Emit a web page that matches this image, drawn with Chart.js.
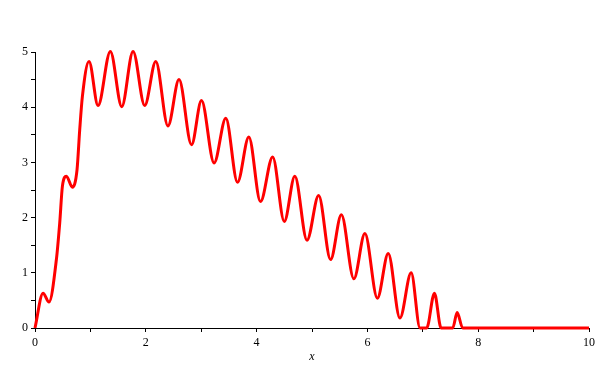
<!DOCTYPE html>
<html>
<head>
<meta charset="utf-8">
<script src="https://cdn.jsdelivr.net/npm/chart.js@4/dist/chart.umd.min.js"></script>
<style>
  html, body { margin: 0; padding: 0; background: #fff; }
  #wrap { width: 600px; height: 379px; }
</style>
</head>
<body>
<div id="wrap"><canvas id="plot"></canvas></div>
<script>
// curve (peaks, valleys and a few points on the steep parts)
const xValues = [0, 0.145, 0.253, 0.386, 0.446, 0.495, 0.567, 0.675, 0.759, 0.807, 0.856, 0.975,
  1.138, 1.36, 1.566, 1.77, 1.98, 2.18, 2.40, 2.60, 2.825, 3.005, 3.233, 3.444, 3.655, 3.86,
  4.07, 4.29, 4.50, 4.69, 4.91, 5.12, 5.335, 5.53, 5.756, 5.955, 6.18, 6.376, 6.587, 6.79,
  6.95, 7.07, 7.21, 7.33, 7.54, 7.62, 7.72, 10];
const yValues = [0, 0.63, 0.47, 1.24, 1.90, 2.57, 2.75, 2.55, 2.87, 3.59, 4.20, 4.83,
  4.03, 5.01, 4.01, 5.01, 4.03, 4.83, 3.66, 4.50, 3.32, 4.12, 2.99, 3.80, 2.64, 3.46,
  2.29, 3.10, 1.93, 2.75, 1.59, 2.40, 1.24, 2.05, 0.89, 1.71, 0.54, 1.35, 0.18, 1.00,
  0, 0, 0.63, 0, 0, 0.28, 0, 0];
const xLabels = [0, 2, 4, 6, 8, 10];
const yLabels = [0, 1, 2, 3, 4, 5];

const points = xValues.map((x, i) => ({ x: x, y: yValues[i] }));
const tickFont = { family: "Liberation Serif", size: 12 };

new Chart(document.getElementById("plot"), {
  type: "line",
  data: {
    datasets: [{
      data: points,
      borderColor: "#ff0000",
      borderWidth: 3,
      pointRadius: 0,
      cubicInterpolationMode: "monotone",
      clip: false
    }]
  },
  options: {
    responsive: true,
    maintainAspectRatio: false,
    animation: false,
    layout: { padding: { top: 52, right: 11, left: 0, bottom: 15 } },
    plugins: { legend: { display: false }, tooltip: { enabled: false } },
    scales: {
      x: {
        type: "linear",
        min: 0,
        max: 10,
        afterFit: (scale) => { scale.height = 36; },
        border: { display: true, color: "#000", width: 1 },
        grid: { drawOnChartArea: false, color: "#000", tickLength: 4 },
        ticks: {
          stepSize: 1,
          color: "#000",
          font: tickFont,
          padding: 4,
          maxRotation: 0,
          callback: (v) => xLabels.includes(v) ? String(v) : ""
        },
        title: {
          display: true,
          text: "x",
          color: "#000",
          font: { family: "Liberation Serif", size: 12, style: "italic" },
          padding: { top: 0, bottom: 0 }
        }
      },
      y: {
        min: 0,
        max: 5,
        afterFit: (scale) => { scale.width = 35; },
        border: { display: true, color: "#000", width: 1 },
        grid: { drawOnChartArea: false, color: "#000", tickLength: 4 },
        ticks: {
          stepSize: 0.5,
          color: "#000",
          font: tickFont,
          padding: 3,
          callback: (v) => yLabels.includes(v) ? String(v) : ""
        }
      }
    }
  }
});
</script>
</body>
</html>
